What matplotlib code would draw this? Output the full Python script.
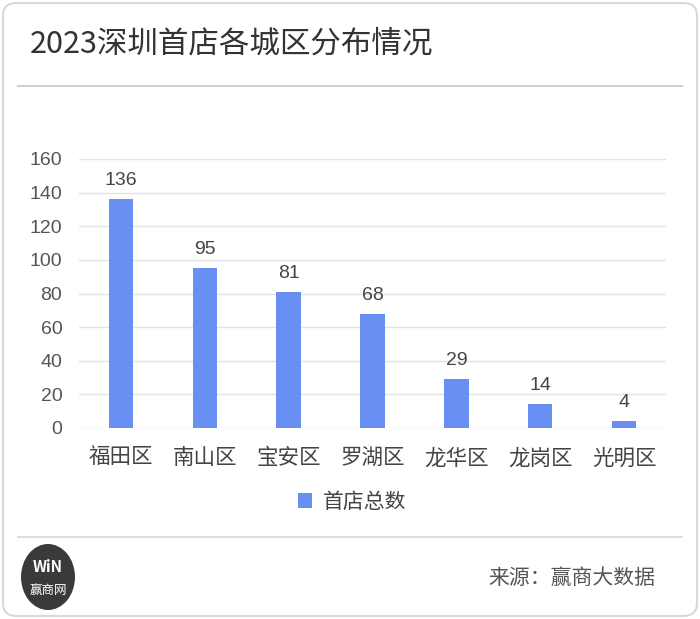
import matplotlib
matplotlib.use('Agg')
import matplotlib.pyplot as plt
from matplotlib.patches import FancyBboxPatch, Ellipse
from matplotlib.lines import Line2D

plt.rcParams['font.family'] = ['Noto Sans CJK SC', 'DejaVu Sans']
NUM_FONT = ['Liberation Sans', 'DejaVu Sans']

districts = ['福田区', '南山区', '宝安区', '罗湖区', '龙华区', '龙岗区', '光明区']
counts = [136, 95, 81, 68, 29, 14, 4]
yticks = [0, 20, 40, 60, 80, 100, 120, 140, 160]

W, H = 700, 619
fig = plt.figure(figsize=(W / 100, H / 100), dpi=100)
fig.patch.set_facecolor('white')

# card background (kept behind the axes)
card = FancyBboxPatch((3 / W, 3 / H), 694 / W, 613 / H,
                      boxstyle='round,pad=0,rounding_size=0.02',
                      transform=fig.transFigure, facecolor='white',
                      edgecolor='#d9d9d9', linewidth=1.5, zorder=-10)
fig.patches.append(card)

fig.text(30 / W, 1 - 44 / H, '2023深圳首店各城区分布情况', fontsize=22,
         fontweight='medium', color='#333333', va='center', ha='left')
fig.add_artist(Line2D([18 / W, 682 / W], [1 - 86 / H, 1 - 86 / H],
                      transform=fig.transFigure, color='#d0d0d0', lw=1.5))
fig.add_artist(Line2D([18 / W, 682 / W], [1 - 537 / H, 1 - 537 / H],
                      transform=fig.transFigure, color='#d8d8d8', lw=1.2))

# chart
ax = fig.add_axes([79 / W, 1 - 428 / H, 587 / W, 269 / H])
ax.set_zorder(5)
ax.patch.set_alpha(0)
color = '#6a8ff3'
bars = ax.bar(range(len(districts)), counts, width=0.29, color=color,
              label='首店总数', zorder=3)
for i, v in enumerate(counts):
    ax.text(i, v + 6, str(v), ha='center', va='bottom', fontsize=14,
            color='#444444', family=NUM_FONT)
ax.set_xlim(-0.5, len(districts) - 0.5)
ax.set_ylim(0, 160)
ax.set_yticks(yticks)
ax.set_yticklabels([str(t) for t in yticks], fontsize=14, color='#555555',
                   family=NUM_FONT)
ax.set_xticks(range(len(districts)))
ax.set_xticklabels(districts, fontsize=15.5, color='#444444')
ax.grid(axis='y', color='#e3e3e3', lw=1, zorder=0)
for s in ax.spines.values():
    s.set_visible(False)
ax.tick_params(length=0)
ax.tick_params(axis='y', pad=12)
ax.tick_params(axis='x', pad=14)

fig.legend(handles=[bars], labels=['首店总数'], loc='center',
           bbox_to_anchor=(352 / W, 1 - 502 / H), frameon=False,
           fontsize=15, handlelength=0.7, handleheight=0.7,
           handletextpad=0.5, labelcolor='#444444')

# logo and source
logo = Ellipse((48 / W, 1 - 577 / H), 54 / W, 66 / H, transform=fig.transFigure,
               facecolor='#3a3a3a', edgecolor='none')
fig.patches.append(logo)
fig.text(48 / W, 1 - 567 / H, 'WiN', fontsize=11, fontweight='bold',
         color='white', ha='center', va='center')
fig.text(48 / W, 1 - 590 / H, '赢商网', fontsize=9, color='white',
         ha='center', va='center')
fig.text(655 / W, 1 - 578 / H, '来源：赢商大数据', fontsize=15, color='#555555',
         ha='right', va='center')

fig.savefig('out.png', dpi=100)
